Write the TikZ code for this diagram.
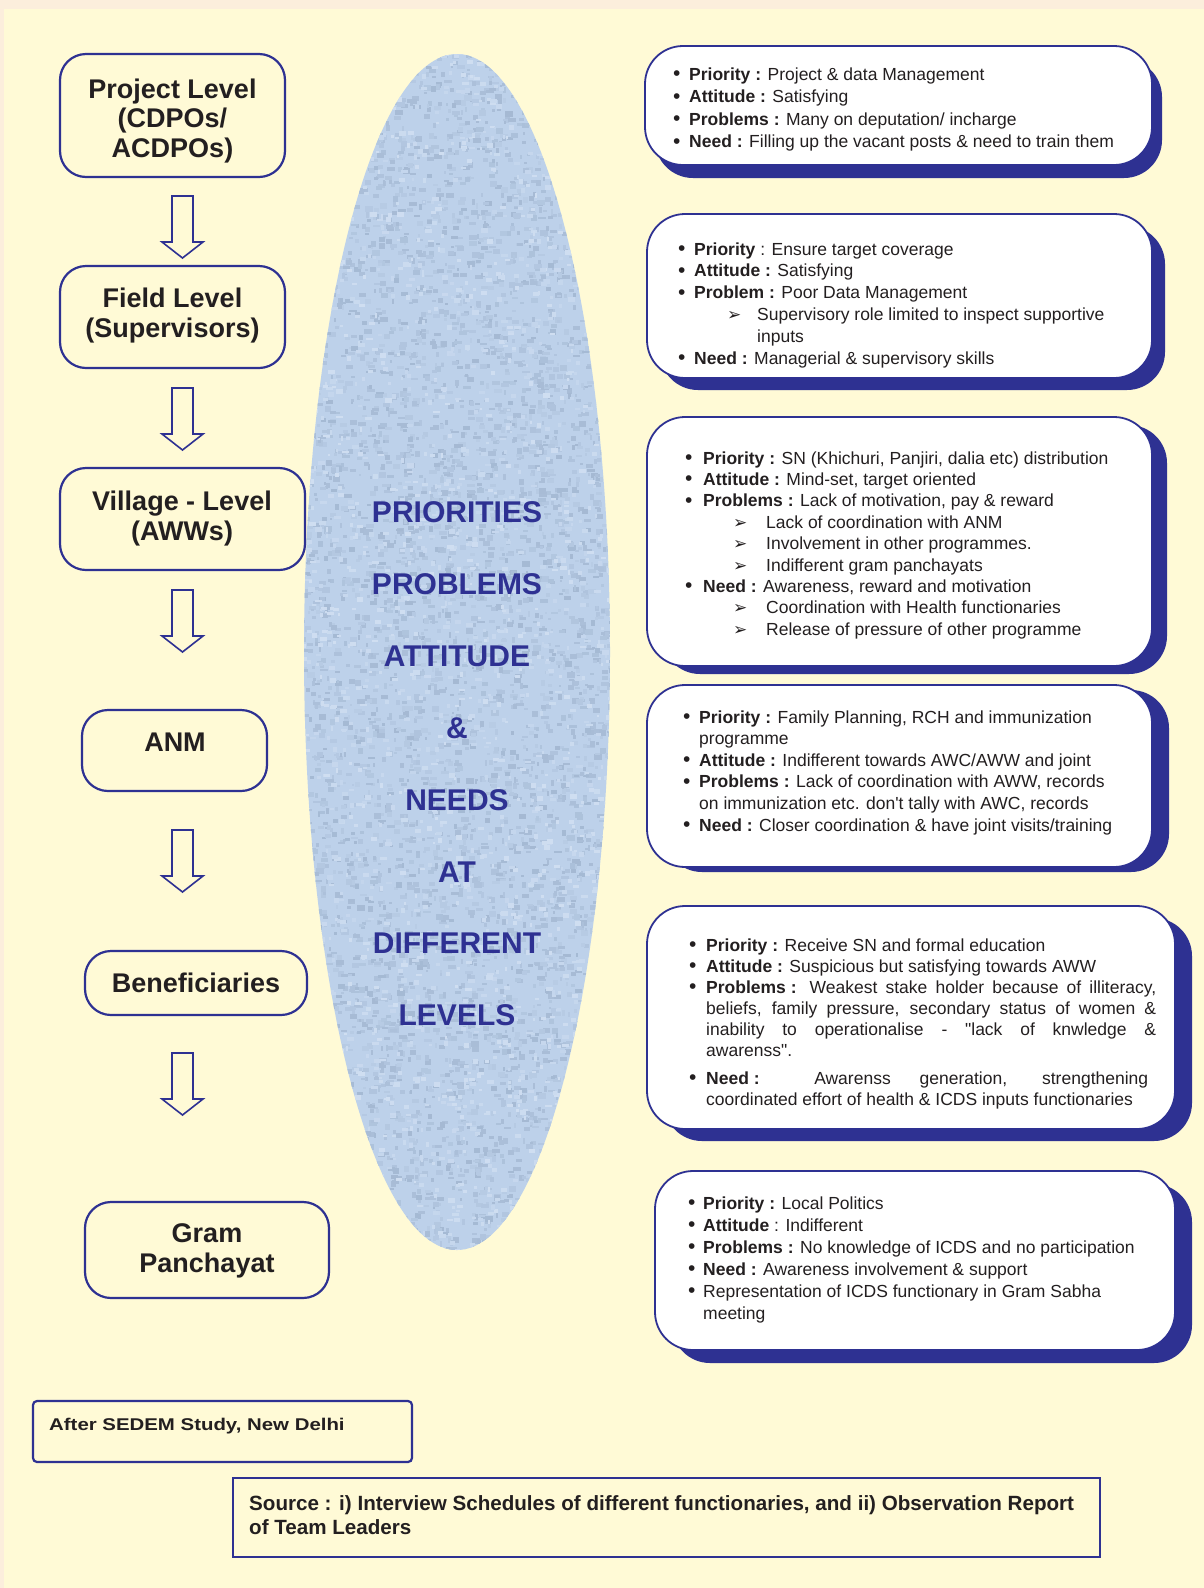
\documentclass[tikz,border=0pt]{standalone}
\usepackage{graphicx}
\usepackage{fontspec}
\setmainfont{Liberation Sans}[Ligatures=TeXOff]
\newfontfamily\dejavu{DejaVu Sans}
\usetikzlibrary{shadows}

\definecolor{navy}{HTML}{2E3192}
\definecolor{paper}{HTML}{FFFAD6}
\definecolor{rim}{HTML}{FCEEDC}
\definecolor{ink}{HTML}{231F20}
\definecolor{lens}{HTML}{BDD1EA}
\definecolor{lensdark}{HTML}{7C91AD}
\definecolor{lenslight}{HTML}{DCE7F6}

% bullet lists inside the cards
\newlength\bulw \newlength\suba \newlength\subt
\newcommand\itm[1]{\par\noindent\hangindent=\bulw\hangafter=1%
  \makebox[\bulw][l]{\fontsize{21}{21}\selectfont\raisebox{-0.5pt}{\textbullet}}#1}
\newcommand\subitm[1]{\par\noindent\hangindent=\subt\hangafter=1%
  \hspace*{\suba}\makebox[\dimexpr\subt-\suba\relax][l]{\dejavu\fontsize{17}{17}\selectfont\symbol{"27A2}}#1}
\newcommand\fsp{\hspace{0.278em}}

\tikzset{
  levelbox/.style={draw=navy, line width=2.2pt, rounded corners=26pt, inner sep=0pt},
  leveltext/.style={font=\bfseries\fontsize{27}{29.5}\selectfont, text=ink, align=center, inner sep=0pt},
  card/.style 2 args={draw=navy, line width=1.8pt, fill=white, rounded corners=38pt, inner sep=0pt,
    drop shadow={shadow xshift=#1pt, shadow yshift=-#2pt, fill=navy, opacity=1}},
  cardtext/.style={inner sep=0pt, anchor=base west, text=ink},
  lensword/.style={font=\bfseries\fontsize{30}{30}\selectfont, text=navy, anchor=base, inner sep=0pt},
  notebox/.style={draw=navy, line width=2.2pt, inner sep=0pt},
  downarrow/.pic={\draw[navy, line width=1.6pt, fill=paper, line join=miter]
    (-10.5,0) -- (-10.5,46) -- (-20.5,46) -- (0,62) -- (20.5,46) -- (10.5,46) -- (10.5,0) -- cycle;}
}

\begin{document}
\begin{tikzpicture}[x=1pt,y=-1pt]
\useasboundingbox (0,0) rectangle (1204,1588);
% page ground with a thin warm rim on the top and left
\fill[rim] (0,0) rectangle (1204,1588);
\fill[paper] (4,9) rectangle (1204,1588);

% mottled lens in the middle
\begin{scope}
  \clip (457,652) ellipse [x radius=153, y radius=598];
  \fill[lens] (300,50) rectangle (615,1255);
  \pgfmathsetseed{42}
  \foreach \k in {1,...,5200}{%
    \pgfmathsetmacro\sx{300+310*rnd}%
    \pgfmathsetmacro\sy{50+1205*rnd}%
    \pgfmathtruncatemacro\sm{8+30*rnd}%
    \pgfmathsetmacro\sw{2+6*rnd}%
    \pgfmathsetmacro\sh{2+4*rnd}%
    \fill[lensdark!\sm!lens] (\sx,\sy) rectangle ++(\sw,\sh);
  }
  \foreach \k in {1,...,1800}{%
    \pgfmathsetmacro\sx{300+310*rnd}%
    \pgfmathsetmacro\sy{50+1205*rnd}%
    \pgfmathtruncatemacro\sm{20+40*rnd}%
    \pgfmathsetmacro\sw{2+5*rnd}%
    \pgfmathsetmacro\sh{2+3*rnd}%
    \fill[lenslight!\sm!lens] (\sx,\sy) rectangle ++(\sw,\sh);
  }
\end{scope}

\node[lensword] (w1) at (457,522) {PRIORITIES};
\node[lensword] (w2) at (457,594) {PROBLEMS};
\node[lensword] (w3) at (457,666) {ATTITUDE};
\node[lensword] (w4) at (457,738) {\&};
\node[lensword] (w5) at (457,810) {NEEDS};
\node[lensword] (w6) at (457,882) {AT};
\node[lensword] (w7) at (457,953) {DIFFERENT};
\node[lensword] (w8) at (457,1025) {LEVELS};

% levels on the left
\node[levelbox, minimum width=225, minimum height=123] (proj) at (172.5,115.5) {};
\node[leveltext] (projt) at (172.5,120.7) {Project Level\\(CDPOs/\\ACDPOs)};
\node[levelbox, minimum width=225, minimum height=102] (field) at (172.5,317) {};
\node[leveltext] (fieldt) at (172.5,315.5) {Field Level\\(Supervisors)};
\node[levelbox, minimum width=245, minimum height=102] (vill) at (182.5,519) {};
\node[leveltext] (villt) at (182,518.7) {Village - Level\\(AWWs)};
\node[levelbox, minimum width=185, minimum height=81] (anm) at (174.5,750.5) {};
\node[leveltext] (anmt) at (175,742.6) {ANM};
\node[levelbox, minimum width=222, minimum height=64] (bene) at (196,983) {};
\node[leveltext] (benet) at (196,983) {Beneficiaries};
\node[levelbox, minimum width=244, minimum height=96] (gram) at (207,1250) {};
\node[leveltext] (gramt) at (207,1251) {Gram\\Panchayat};

\pic at (182.5,196) {downarrow};
\pic at (182.5,388) {downarrow};
\pic at (182.5,590) {downarrow};
\pic at (182.5,830) {downarrow};
\pic at (182.5,1053) {downarrow};

% cards on the right
\node[card={10}{13}, minimum width=507, minimum height=119] (c1) at (898.5,105.5) {};
\node[card={13}{12}, minimum width=505, minimum height=164] (c2) at (899.5,296) {};
\node[card={15}{8},  minimum width=505, minimum height=249] (c3) at (899.5,541.5) {};
\node[card={17}{5},  minimum width=505, minimum height=182] (c4) at (899.5,776) {};
\node[card={17}{12}, minimum width=528, minimum height=223] (c5) at (911,1017.5) {};
\node[card={17}{13}, minimum width=520, minimum height=179] (c6) at (915,1260.5) {};

\node[cardtext] (c1t) at (673,80) {\begin{minipage}[t]{520pt}\fontsize{17.5}{22.6}\selectfont
  \setlength\bulw{16pt}%
  \itm{\textbf{Priority :} Project \& data Management}
  \itm{\textbf{Attitude :} Satisfying}
  \itm{\textbf{Problems :} Many on deputation/ incharge}
  \itm{\textbf{Need :} Filling up the vacant posts \& need to train them}
\end{minipage}};

\node[cardtext] (c2t) at (678,255) {\begin{minipage}[t]{520pt}\fontsize{17.5}{21.8}\selectfont
  \setlength\bulw{16pt}\setlength\suba{49pt}\setlength\subt{79pt}%
  \itm{\textbf{Priority} : Ensure target coverage}
  \itm{\textbf{Attitude :} Satisfying}
  \itm{\textbf{Problem :} Poor Data Management}
  \subitm{Supervisory role limited to inspect supportive\\inputs}
  \itm{\textbf{Need :} Managerial \& supervisory skills}
\end{minipage}};

\node[cardtext] (c3t) at (685,464) {\begin{minipage}[t]{520pt}\fontsize{17.5}{21.4}\selectfont
  \setlength\bulw{18pt}\setlength\suba{48pt}\setlength\subt{81pt}%
  \itm{\textbf{Priority :} SN (Khichuri, Panjiri, dalia etc) distribution}
  \itm{\textbf{Attitude :} Mind-set, target oriented}
  \itm{\textbf{Problems :} Lack of motivation, pay \& reward}
  \subitm{Lack of coordination with ANM}
  \subitm{Involvement in other programmes.}
  \subitm{Indifferent gram panchayats}
  \itm{\textbf{Need :} Awareness, reward and motivation}
  \subitm{Coordination with Health functionaries}
  \subitm{Release of pressure of other programme}
\end{minipage}};

\node[cardtext] (c4t) at (683,723) {\begin{minipage}[t]{520pt}\fontsize{17.5}{21.6}\selectfont
  \setlength\bulw{16pt}%
  \itm{\textbf{Priority :} Family Planning, RCH and immunization\\programme}
  \itm{\textbf{Attitude :} Indifferent towards AWC/AWW and joint}
  \itm{\textbf{Problems :} Lack of coordination with AWW, records\\on immunization etc. don't tally with AWC, records}
  \itm{\textbf{Need :} Closer coordination \& have joint visits/training}
\end{minipage}};

\node[cardtext] (c5t) at (689,951) {\begin{minipage}[t]{520pt}\fontsize{17.5}{21}\selectfont
  \setlength\bulw{17pt}%
  \itm{\textbf{Priority :} Receive SN and formal education}
  \itm{\textbf{Attitude :} Suspicious but satisfying towards AWW}
  \itm{\makebox[450pt][s]{\textbf{Problems\fsp:} Weakest stake holder because of illiteracy,}\\
    \makebox[450pt][s]{beliefs, family pressure, secondary status of women \&}\\
    \makebox[450pt][s]{inability to operationalise - "lack of knwledge \&}\\
    awarenss".}
  \par\vspace{7pt}%
  \itm{\makebox[442pt][s]{\textbf{Need\fsp:} Awarenss generation, strengthening}\\
    coordinated effort of health \& ICDS inputs functionaries}
\end{minipage}};

\node[cardtext] (c6t) at (688,1209) {\begin{minipage}[t]{520pt}\fontsize{17.5}{22}\selectfont
  \setlength\bulw{15pt}%
  \itm{\textbf{Priority :} Local Politics}
  \itm{\textbf{Attitude} : Indifferent}
  \itm{\textbf{Problems :} No knowledge of ICDS and no participation}
  \itm{\textbf{Need :} Awareness involvement \& support}
  \itm{Representation of ICDS functionary in Gram Sabha\\meeting}
\end{minipage}};

% notes at the foot
\node[notebox, rounded corners=4pt, minimum width=379, minimum height=61] (sedem) at (222.5,1431.5) {};
\node[cardtext, font=\bfseries\fontsize{17}{17}\selectfont] (sedemt) at (49,1430) {\scalebox{1.2}[1]{After SEDEM Study, New Delhi}};
\node[notebox, minimum width=867, minimum height=79] (src) at (666.5,1517.5) {};
\node[cardtext, font=\bfseries\fontsize{20.6}{24.5}\selectfont, align=left, anchor=north west] (srct) at (249,1495) {Source : i) Interview Schedules of different functionaries, and ii) Observation Report\\of Team Leaders};
\end{tikzpicture}
\end{document}
